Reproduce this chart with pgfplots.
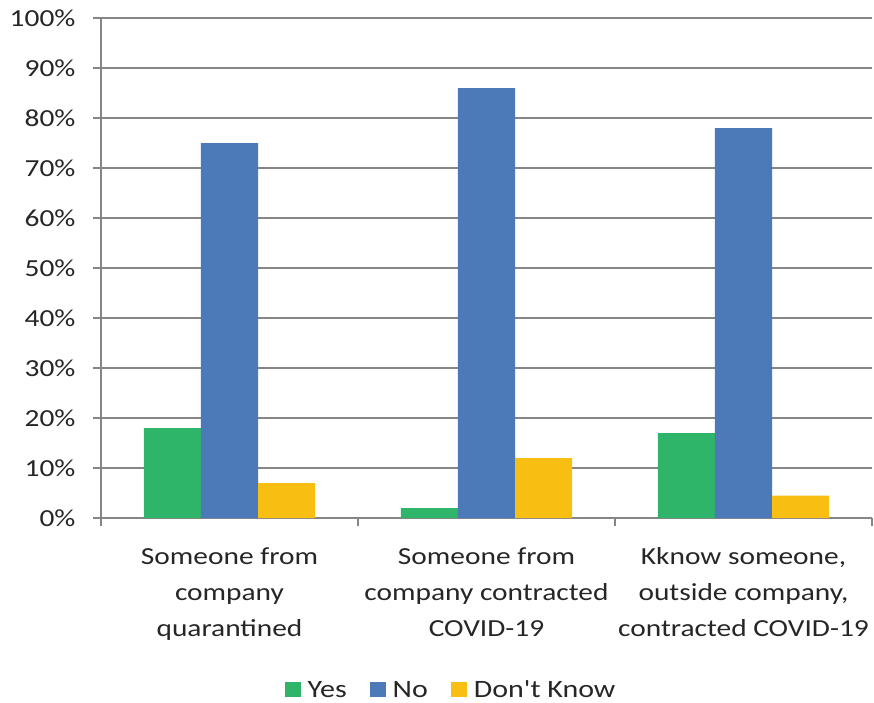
\documentclass[border=0pt]{standalone}
\usepackage{pgfplots}
\pgfplotsset{compat=1.18}
\usepackage{fontspec}
\setmainfont[FakeStretch=1.2, Ligatures=TeXOff]{Carlito}
\definecolor{cgreen}{RGB}{46,181,106}
\definecolor{cblue}{RGB}{76,122,184}
\definecolor{cyellow}{RGB}{249,190,18}
\definecolor{cgray}{RGB}{134,134,134}
\definecolor{ctext}{RGB}{38,38,38}
\begin{document}
\begin{tikzpicture}
\begin{axis}[
  scale only axis, width=771pt, height=500pt,
  xmin=-0.5, xmax=2.5, ymin=0, ymax=100,
  axis x line*=bottom, axis y line*=left,
  axis line style={draw=cgray, line width=1.5pt, -},
  xtick={-0.5,0.5,1.5,2.5},
  x tick label as interval,
  xticklabels={{Someone from\\company\\quarantined},{Someone from\\company contracted\\COVID-19},{Kknow someone,\\outside company,\\contracted COVID-19}},
  x tick label style={font=\fontsize{24.5}{36}\selectfont, text=ctext, align=center, yshift=-18pt},
  ytick={0,10,...,100},
  /pgf/number format/assume math mode=true,
  yticklabel={\pgfmathprintnumber{\tick}\%},
  y tick label style={font=\fontsize{24.5}{29}\selectfont, text=ctext, xshift=-14pt},
  ymajorgrids, grid style={draw=cgray, line width=1.5pt},
  tick style={draw=cgray, line width=1.5pt},
  tick align=outside, major tick length=8pt,
  ybar, bar width=0.222,
  every axis plot/.append style={draw=none,
    legend image code/.code={\fill[##1] (0pt,-7pt) rectangle (16pt,8pt);}},
  legend style={at={(0.454,-0.344)}, anchor=center, draw=none, inner sep=0pt,
    nodes={font=\fontsize{25}{30}\selectfont, text=ctext, inner sep=2pt},
    legend columns=-1, /tikz/every odd column/.style={column sep=5pt},
    /tikz/every even column/.style={column sep=21pt}},
]
\addplot[fill=cgreen, bar shift=-0.222] coordinates {(0,18) (1,2) (2,17)};
\addplot[fill=cblue, bar shift=0] coordinates {(0,75) (1,86) (2,78)};
\addplot[fill=cyellow, bar shift=0.222] coordinates {(0,7) (1,12) (2,4.5)};
\legend{Yes, No, Don't Know}
\end{axis}
\pgfresetboundingbox
\useasboundingbox (-101pt,-184pt) rectangle (773pt,518pt);
\end{tikzpicture}
\end{document}
